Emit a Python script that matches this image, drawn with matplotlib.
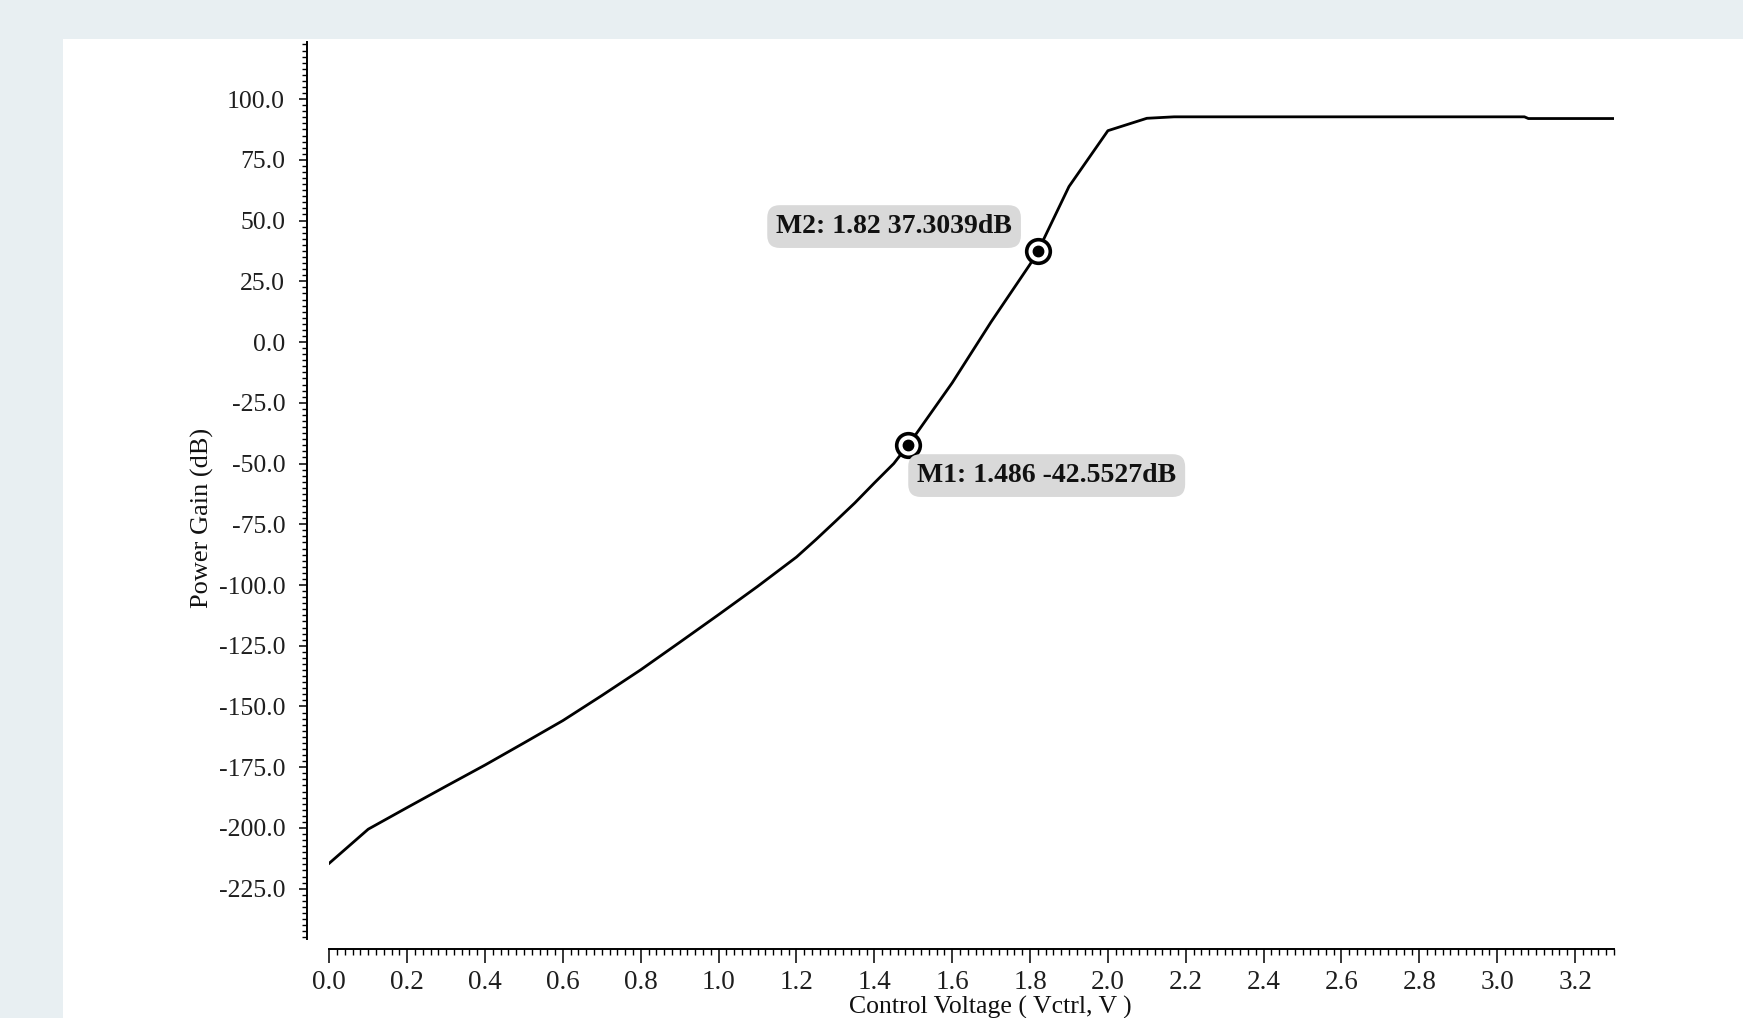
import matplotlib
matplotlib.use("Agg")
import matplotlib.pyplot as plt
from matplotlib.patches import Rectangle
from matplotlib.ticker import MultipleLocator, FormatStrFormatter

# control voltage sweep (V) and simulated power gain (dB)
vctrl = [0.0, 0.1, 0.2, 0.3, 0.4, 0.5, 0.6, 0.7, 0.8, 0.9, 1.0, 1.1, 1.2, 1.25, 1.3,
         1.35, 1.4, 1.45, 1.486, 1.5, 1.6, 1.7, 1.8, 1.82, 1.9, 2.0, 2.1, 2.17, 3.07,
         3.08, 3.3]
gain_db = [-214.5, -200.5, -191.6, -182.8, -174.1, -165.0, -155.8, -145.5, -134.9,
           -123.6, -112.2, -100.6, -88.5, -81.3, -73.8, -66.2, -58.0, -50.0, -42.5527,
           -39.5, -16.8, 8.3, 32.0, 37.3039, 64.0, 87.0, 92.1, 92.7, 92.7, 92.0, 92.0]

# markers
marker_names = ["M1", "M2"]
marker_x = [1.486, 1.82]
marker_y = [-42.5527, 37.3039]

plt.rcParams['font.family'] = ['Liberation Serif', 'DejaVu Serif']
plt.rcParams['axes.unicode_minus'] = False

W, H = 1743, 1018
fig = plt.figure(figsize=(W / 100, H / 100), dpi=100, facecolor='#e8eff2')
# white card behind the chart
fig.patches.append(Rectangle((63 / W, 0), 1, 1 - 39 / H, transform=fig.transFigure,
                             facecolor='white', edgecolor='none', zorder=-10))

ax = fig.add_axes([329.3 / W, (H - 939) / H, 1284.7 / W, 897 / H])
ax.set_zorder(1)
ax.patch.set_alpha(0)

ax.plot(vctrl, gain_db, color='black', lw=2.0, zorder=3)

for name, mx, my in zip(marker_names, marker_x, marker_y):
    ax.plot(mx, my, 'o', ms=17, mfc='white', mec='black', mew=2.6, zorder=4)
    ax.plot(mx, my, 'o', ms=7.5, mfc='black', mec='black', zorder=5)

box = dict(boxstyle='round,pad=0.32,rounding_size=0.45', fc='#d9d9d9', ec='none')
ax.annotate(f"{marker_names[0]}: {marker_x[0]} {marker_y[0]}dB",
            xy=(marker_x[0], marker_y[0]), xytext=(100, -21.7),
            textcoords='offset points', ha='center', va='center',
            fontsize=20, fontweight='bold', color='#111111', bbox=box, zorder=6)
ax.annotate(f"{marker_names[1]}: {marker_x[1]} {marker_y[1]}dB",
            xy=(marker_x[1], marker_y[1]), xytext=(-103.5, 17.9),
            textcoords='offset points', ha='center', va='center',
            fontsize=20, fontweight='bold', color='#111111', bbox=box, zorder=6)

ax.set_xlim(0, 3.30)
ax.set_ylim(-245.7, 123.5)

ax.xaxis.set_major_locator(MultipleLocator(0.2))
ax.xaxis.set_minor_locator(MultipleLocator(0.02))
ax.xaxis.set_major_formatter(FormatStrFormatter('%.1f'))
ax.yaxis.set_major_locator(MultipleLocator(25))
ax.yaxis.set_minor_locator(MultipleLocator(2.5))
ax.yaxis.set_major_formatter(FormatStrFormatter('%.1f'))

for s in ['top', 'right']:
    ax.spines[s].set_visible(False)
ax.spines['left'].set_position(('outward', 15.8))
ax.spines['bottom'].set_position(('outward', 7.4))
for s in ['left', 'bottom']:
    ax.spines[s].set_linewidth(1.4)
    ax.spines[s].set_color('black')

ax.tick_params(axis='x', which='major', length=10, width=1.1, pad=5, labelsize=19.5, colors='black')
ax.tick_params(axis='x', which='minor', length=4, width=1.0)
ax.tick_params(axis='y', which='major', length=6, width=1.1, pad=10, labelsize=18.5, colors='black')
ax.tick_params(axis='y', which='minor', length=3.4, width=1.0)
for lab in ax.get_xticklabels() + ax.get_yticklabels():
    lab.set_color('#1e1e1e')

ax.set_ylabel('Power Gain (dB)', fontsize=19, va='center', color='#111111')
ax.yaxis.set_label_coords(-0.0991, 0.4693)
# reference crops this label at the bottom edge; keep it just inside
ax.set_xlabel('Control Voltage ( Vctrl, V )', fontsize=18.5, va='bottom', color='#111111')
ax.xaxis.set_label_coords(0.5147, -0.0895)

fig.savefig('out.png', dpi=100, facecolor=fig.get_facecolor())
